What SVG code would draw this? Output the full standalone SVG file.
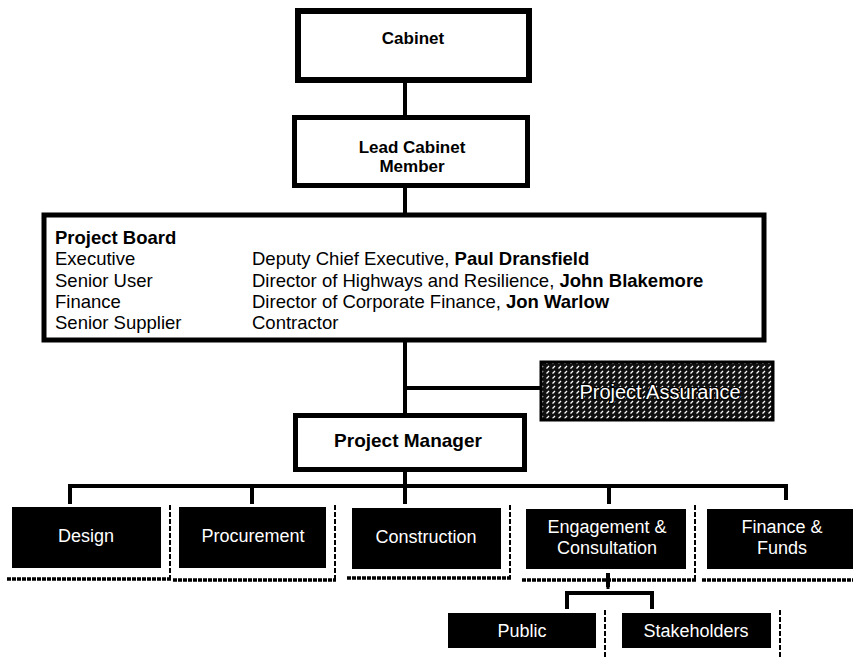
<svg xmlns="http://www.w3.org/2000/svg" width="853" height="657" viewBox="0 0 853 657">
<defs>
<pattern id="hatch" width="6" height="5" patternUnits="userSpaceOnUse">
<rect width="6" height="5" fill="#111"/>
<path d="M0.5,3.5 L3,1" stroke="#fff" stroke-width="1.2"/>
</pattern>
</defs>
<style>
.box{fill:#fff;stroke:#000}
.dark{fill:#000}
.t{font-family:"Liberation Sans",Arial,sans-serif;font-size:18.5px;fill:#000}
.h{font-family:"Liberation Sans",Arial,sans-serif;font-weight:bold;fill:#000;text-anchor:middle}
.b{font-weight:bold}
.w{fill:#fff;text-anchor:middle;font-family:"Liberation Sans",Arial,sans-serif;font-size:18px}
.conn{stroke:#000;stroke-width:4;fill:none}
.shb{stroke:#000;stroke-width:3.5;stroke-dasharray:4 1;fill:none}
.shr{stroke:#000;stroke-width:2;stroke-dasharray:5 2;fill:none}
</style>
<rect width="853" height="657" fill="#fff"/>

<g id="connectors">
<line class="conn" x1="405" y1="83" x2="405" y2="116"/>
<line class="conn" x1="405" y1="187" x2="405" y2="214"/>
<line class="conn" x1="405" y1="340" x2="405" y2="413"/>
<line class="conn" x1="405" y1="388" x2="541" y2="388"/>
<line class="conn" x1="405" y1="472" x2="405" y2="504"/>
<polyline class="conn" points="70,504 70,486 786,486 786,500"/>
<line class="conn" x1="252" y1="486" x2="252" y2="504"/>
<line class="conn" x1="609" y1="486" x2="609" y2="504"/>
<line class="conn" x1="608" y1="573" x2="608" y2="587"/>
<line stroke="#000" stroke-width="3" stroke-dasharray="2 2" x1="608" y1="587" x2="608" y2="593"/>
<polyline class="conn" points="567,609 567,593 652,593 652,609"/>
</g>

<g id="cabinet">
<rect class="box" x="298" y="11" width="231" height="69" stroke-width="6"/>
<text class="h" x="413" y="44" font-size="17">Cabinet</text>
</g>

<g id="lead-cabinet-member">
<rect class="box" x="294.5" y="117.5" width="233" height="68" stroke-width="5"/>
<text class="h" x="412" y="153" font-size="17">Lead Cabinet</text>
<text class="h" x="412" y="172" font-size="17">Member</text>
</g>

<g id="project-board">
<rect class="box" x="44" y="215" width="720" height="125" stroke-width="5"/>
<text class="t b" x="55" y="244">Project Board</text>
<text class="t" x="55" y="265">Executive</text>
<text class="t" x="55" y="287">Senior User</text>
<text class="t" x="55" y="308">Finance</text>
<text class="t" x="55" y="329">Senior Supplier</text>
<text class="t" x="252" y="265">Deputy Chief Executive, <tspan class="b">Paul Dransfield</tspan></text>
<text class="t" x="252" y="287">Director of Highways and Resilience, <tspan class="b">John Blakemore</tspan></text>
<text class="t" x="252" y="308">Director of Corporate Finance, <tspan class="b">Jon Warlow</tspan></text>
<text class="t" x="252" y="329">Contractor</text>
</g>

<g id="project-assurance">
<rect x="541" y="362" width="232" height="58" fill="url(#hatch)" stroke="#000" stroke-width="3"/>
<text x="660" y="399" text-anchor="middle" font-family="'Liberation Sans',Arial,sans-serif" font-size="20" fill="#fff" stroke="#000" stroke-width="2.5" paint-order="stroke">Project Assurance</text>
</g>

<g id="project-manager">
<rect class="box" x="295.5" y="415.5" width="229" height="54" stroke-width="5"/>
<text class="h" x="408" y="447" font-size="19">Project Manager</text>
</g>

<g id="design">
<rect class="dark" x="12" y="507" width="149" height="61"/>
<polyline class="shr" points="170,505 170,579"/>
<line class="shb" x1="7" y1="579" x2="171" y2="579"/>
<text class="w" x="86" y="542">Design</text>
</g>

<g id="procurement">
<rect class="dark" x="179" y="507" width="147" height="61"/>
<polyline class="shr" points="335,505 335,580"/>
<line class="shb" x1="173" y1="580" x2="336" y2="580"/>
<text class="w" x="253" y="542">Procurement</text>
</g>

<g id="construction">
<rect class="dark" x="352" y="508" width="149" height="61"/>
<polyline class="shr" points="510,505 510,578"/>
<line class="shb" x1="347" y1="578" x2="511" y2="578"/>
<text class="w" x="426" y="543">Construction</text>
</g>

<g id="engagement">
<rect class="dark" x="526" y="509" width="160" height="60"/>
<polyline class="shr" points="695,505 695,580"/>
<line class="shb" x1="522" y1="580" x2="696" y2="580"/>
<text class="w" x="607" y="533">Engagement &amp;</text>
<text class="w" x="607" y="554">Consultation</text>
</g>

<g id="finance-funds">
<rect class="dark" x="707" y="509" width="146" height="60"/>
<line class="shb" x1="702" y1="580" x2="853" y2="580"/>
<text class="w" x="782" y="533">Finance &amp;</text>
<text class="w" x="782" y="554">Funds</text>
</g>

<g id="public">
<rect class="dark" x="448" y="613" width="148" height="35"/>
<polyline class="shr" points="605,610 605,657"/>
<text class="w" x="522" y="637">Public</text>
</g>

<g id="stakeholders">
<rect class="dark" x="622" y="613" width="149" height="35"/>
<polyline class="shr" points="780,610 780,657"/>
<text class="w" x="696" y="637">Stakeholders</text>
</g>
</svg>
